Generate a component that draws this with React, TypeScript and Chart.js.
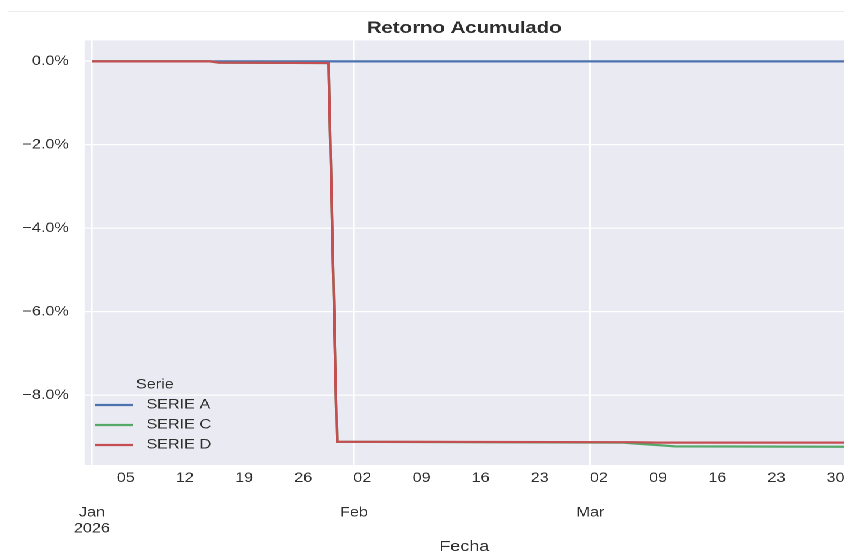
import React, { useEffect, useRef } from "react";
import { Chart, registerables } from "chart.js";

Chart.register(...registerables);

// ---- data ----
const dates = [
  "2026-01-01", "2026-01-15", "2026-01-16", "2026-01-29", "2026-01-30",
  "2026-03-05", "2026-03-06", "2026-03-09", "2026-03-11", "2026-03-31",
];
const serieA = [0, 0, 0, 0, 0, 0, 0, 0, 0, 0];
const serieC = [0, 0, -0.03, -0.04, -9.12, -9.14, -9.16, -9.2, -9.23, -9.24];
const serieD = [0, 0, -0.03, -0.04, -9.12, -9.13, -9.13, -9.14, -9.14, -9.14];
const seriesNames = ["SERIE A", "SERIE C", "SERIE D"];
const seriesColors = ["#4C72B0", "#55A868", "#C44E52"];

const weekTicks = [
  "2026-01-05", "2026-01-12", "2026-01-19", "2026-01-26",
  "2026-02-02", "2026-02-09", "2026-02-16", "2026-02-23",
  "2026-03-02", "2026-03-09", "2026-03-16", "2026-03-23", "2026-03-30",
];
const weekLabels = ["05", "12", "19", "26", "02", "09", "16", "23", "02", "09", "16", "23", "30"];
const monthTicks = ["2026-01-01", "2026-02-01", "2026-03-01"];
const monthLabels = [["Jan", "2026"], ["Feb"], ["Mar"]];
const yTicks = [-8, -6, -4, -2, 0];

const titleText = "Retorno Acumulado";
const xTitle = "Fecha";
const legendTitle = "Serie";

// ---- helpers ----
const BASE = Date.UTC(2026, 0, 1);
function dayIndex(s: string): number {
  const [y, m, d] = s.split("-").map(Number);
  return (Date.UTC(y, m - 1, d) - BASE) / 86400000;
}

const CW = 703;
const CH = 557;
const SX = 844 / CW;
const FONT = "'Liberation Sans', Arial, sans-serif";
const TEXT = "#2e2e2e";

export default function App() {
  const ref = useRef<HTMLCanvasElement | null>(null);

  useEffect(() => {
    const canvas = ref.current;
    if (!canvas) return;

    const seriesData = [serieA, serieC, serieD];
    const datasets = seriesData.map((vals, k) => ({
      label: seriesNames[k],
      data: dates.map((d, i) => ({ x: dayIndex(d), y: vals[i] })),
      borderColor: seriesColors[k],
      backgroundColor: seriesColors[k],
      borderWidth: 2.2,
      pointRadius: 0,
      tension: 0,
      fill: false,
      order: 2 - k,
    }));

    const bgPlugin = {
      id: "bgPlugin",
      beforeDraw(chart: any) {
        const { ctx, chartArea } = chart;
        ctx.save();
        ctx.fillStyle = "#ffffff";
        ctx.fillRect(0, 0, chart.width, chart.height);
        ctx.fillStyle = "#EAEAF2";
        ctx.fillRect(chartArea.left, chartArea.top, chartArea.right - chartArea.left, chartArea.bottom - chartArea.top);
        ctx.strokeStyle = "#ececec";
        ctx.lineWidth = 1;
        ctx.beginPath();
        ctx.moveTo(8 / SX, 11.5);
        ctx.lineTo(chart.width, 11.5);
        ctx.stroke();
        ctx.restore();
      },
      afterDraw(chart: any) {
        const { ctx } = chart;
        ctx.save();
        ctx.font = `13.5px ${FONT}`;
        ctx.fillStyle = TEXT;
        ctx.textBaseline = "middle";
        ctx.textAlign = "center";
        ctx.fillText(legendTitle, 129, 385);
        ctx.textAlign = "left";
        seriesNames.forEach((name, k) => {
          const y = 405 + k * 20;
          ctx.strokeStyle = seriesColors[k];
          ctx.lineWidth = 2.2;
          ctx.beginPath();
          ctx.moveTo(79, y);
          ctx.lineTo(111, y);
          ctx.stroke();
          ctx.fillText(name, 122, y);
        });
        ctx.restore();
      },
    };

    const tickFont = { family: FONT, size: 13.5 };

    const chart = new Chart(canvas, {
      type: "line",
      data: { datasets },
      plugins: [bgPlugin],
      options: {
        responsive: false,
        animation: false,
        devicePixelRatio: 2,
        layout: { padding: 0 },
        plugins: {
          legend: { display: false },
          tooltip: { enabled: false },
          title: {
            display: true,
            text: titleText,
            fullSize: false,
            color: TEXT,
            font: { family: FONT, size: 17, weight: "bold" },
            padding: { top: 18, bottom: 2 },
          },
        },
        scales: {
          x: {
            type: "linear",
            position: "bottom",
            weight: 0,
            min: -0.88,
            max: 89.0,
            grid: { display: false, drawTicks: false },
            border: { display: false },
            afterBuildTicks: (s: any) => {
              s.ticks = weekTicks.map((d) => ({ value: dayIndex(d) }));
            },
            afterFit: (s: any) => {
              s.height = 30;
              s.paddingLeft = 0;
              s.paddingRight = 0;
            },
            ticks: {
              autoSkip: false,
              maxRotation: 0,
              padding: 5,
              color: TEXT,
              font: tickFont,
              callback: (_v: any, i: number) => weekLabels[i],
            },
          },
          x2: {
            type: "linear",
            position: "bottom",
            weight: 1,
            min: -0.88,
            max: 89.0,
            grid: { display: true, color: "#ffffff", lineWidth: 1.3, drawTicks: false },
            border: { display: false },
            afterBuildTicks: (s: any) => {
              s.ticks = monthTicks.map((d) => ({ value: dayIndex(d) }));
            },
            afterFit: (s: any) => {
              s.height = 62;
              s.paddingLeft = 0;
              s.paddingRight = 0;
            },
            ticks: {
              autoSkip: false,
              maxRotation: 0,
              padding: 10,
              color: TEXT,
              font: { family: FONT, size: 13.5, lineHeight: 1.18 },
              callback: (_v: any, i: number) => monthLabels[i],
            },
            title: {
              display: true,
              text: xTitle,
              color: TEXT,
              font: { family: FONT, size: 15 },
              padding: { top: 0, bottom: 1 },
            },
          },
          y: {
            type: "linear",
            min: -9.677,
            max: 0.503,
            grid: { display: true, color: "#ffffff", lineWidth: 1.3, drawTicks: false },
            border: { display: false },
            afterBuildTicks: (s: any) => {
              s.ticks = yTicks.map((v) => ({ value: v }));
            },
            afterFit: (s: any) => {
              s.width = 70.4;
              s.paddingTop = 0;
              s.paddingBottom = 0;
            },
            ticks: {
              padding: 13,
              color: TEXT,
              font: tickFont,
              callback: (v: any) => {
                const n = Number(v);
                return (n < 0 ? "\u2212" : "") + Math.abs(n).toFixed(1) + "%";
              },
            },
          },
        },
      },
    } as any);

    return () => chart.destroy();
  }, []);

  return (
    <div
      style={{
        position: "absolute",
        left: 0,
        top: 0,
        width: CW,
        height: CH,
        transform: `scaleX(${SX})`,
        transformOrigin: "0 0",
        background: "#fff",
      }}
    >
      <canvas ref={ref} width={CW} height={CH} />
    </div>
  );
}
